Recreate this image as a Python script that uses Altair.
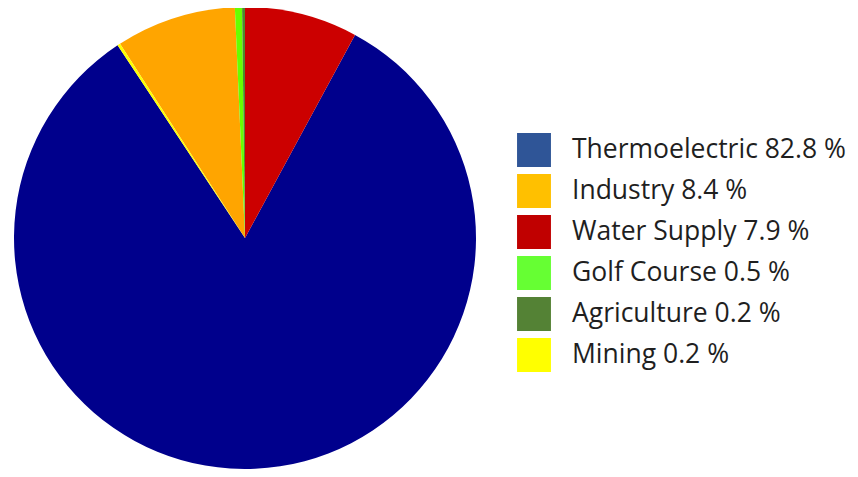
import altair as alt
import pandas as pd

categories = ["Thermoelectric", "Industry", "Water Supply", "Golf Course", "Agriculture", "Mining"]
percent = [82.8, 8.4, 7.9, 0.5, 0.2, 0.2]
pie_order = [1, 3, 0, 4, 5, 2]  # clockwise from 12 o'clock: Water, Thermo, Mining, Industry, Golf, Agri
pie_colors = ["#00008C", "#FFA500", "#CC0000", "#66FF00", "#4E8A2E", "#FFFF00"]
legend_colors = ["#2F5597", "#FFC000", "#C00000", "#66FF33", "#548235", "#FFFF00"]

labels = [f"{c} {p} %" for c, p in zip(categories, percent)]
df = pd.DataFrame({"category": categories, "pct": percent, "ord": pie_order, "label": labels})

pie = alt.Chart(df).mark_arc(outerRadius=231, stroke=None).encode(
    x=alt.value(237),
    y=alt.value(230),
    theta=alt.Theta("pct:Q", stack=True),
    order=alt.Order("ord:Q"),
    color=alt.Color("category:N", scale=alt.Scale(domain=categories, range=pie_colors), legend=None),
)

leg = alt.Chart(df).mark_arc(outerRadius=0, innerRadius=0).encode(
    x=alt.value(-200),
    y=alt.value(-200),
    theta=alt.Theta("pct:Q", stack=True),
    color=alt.Color(
        "label:N",
        scale=alt.Scale(domain=labels, range=legend_colors),
        legend=alt.Legend(
            title=None,
            orient="none",
            legendX=509,
            legendY=125,
            symbolType="square",
            symbolSize=1150,
            symbolStrokeWidth=0,
            symbolOpacity=1,
            labelFont="Open Sans",
            labelFontSize=26.5,
            labelColor="#1F1F1F",
            labelOffset=21,
            labelLimit=500,
            rowPadding=7,
            padding=0,
        ),
    ),
)

chart = alt.layer(pie, leg).resolve_scale(color="independent", theta="independent").properties(
    width=842, height=461, autosize=alt.AutoSizeParams(type="none"), padding=0
).configure_view(stroke=None)

chart.save("out.html", embed_options={"renderer": "svg", "actions": False})
